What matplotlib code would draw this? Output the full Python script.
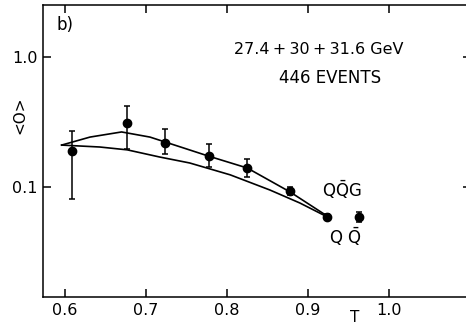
import matplotlib

matplotlib.use("Agg")
import matplotlib.pyplot as plt
import numpy as np

# measured points: thrust T, <O>, and error-bar bounds
t_data = [0.609, 0.677, 0.723, 0.778, 0.825, 0.878, 0.923, 0.963]
o_data = [0.189, 0.310, 0.218, 0.173, 0.140, 0.093, 0.059, 0.059]
o_hi = [0.270, 0.420, 0.279, 0.214, 0.164, 0.100, 0.062, 0.064]
o_lo = [0.081, 0.196, 0.179, 0.143, 0.119, 0.0868, 0.0557, 0.0538]

# model curves
t_qqg = [0.596, 0.631, 0.670, 0.705, 0.746, 0.777, 0.825, 0.878, 0.926]
o_qqg = [0.210, 0.242, 0.265, 0.242, 0.200, 0.173, 0.140, 0.0915, 0.0585]
t_qq = [0.596, 0.643, 0.677, 0.717, 0.754, 0.804, 0.853, 0.890, 0.924]
o_qq = [0.210, 0.203, 0.193, 0.170, 0.153, 0.124, 0.0948, 0.0753, 0.0588]

plt.rcParams["font.family"] = ["DejaVu Sans"]
plt.rcParams["mathtext.fontset"] = "dejavusans"

W, H = 466, 327
fig = plt.figure(figsize=(W / 100, H / 100), dpi=100)
# axes runs past the right edge of the scan
x0, x1, y0, y1 = 43, 471, 5, 297
ax = fig.add_axes([x0 / W, 1 - y1 / H, (x1 - x0) / W, (y1 - y0) / H])

ax.plot(t_qqg, o_qqg, color="black", lw=1.2)
ax.plot(t_qq, o_qq, color="black", lw=1.2)

o = np.array(o_data)
yerr = [o - np.array(o_lo), np.array(o_hi) - o]
ax.errorbar(t_data, o_data, yerr=yerr, fmt="o", color="black", ms=6,
            elinewidth=1.1, capsize=2.5, capthick=1.1)

ax.set_yscale("log")
ax.set_xlim(0.573, 1.1012)
ax.set_ylim(0.01425, 2.51)
ax.set_xticks([0.6, 0.7, 0.8, 0.9, 1.0])
ax.set_xticklabels(["0.6", "0.7", "0.8", "0.9", "1.0"])
ax.set_yticks([0.1, 1.0])
ax.set_yticklabels(["0.1", "1.0"])
ax.minorticks_off()
ax.tick_params(direction="in", length=6, width=1.1, labelsize=11.5,
               top=True, right=True, pad=4)
for s in ax.spines.values():
    s.set_linewidth(1.1)
ax.spines["right"].set_visible(False)

fig.text(20 / W, 1 - 115 / H, "<O>", rotation=90, ha="center", va="center", fontsize=11)
fig.text(355 / W, 1 - 318 / H, "T", ha="center", va="center", fontsize=11)
fig.text(57 / W, 1 - 25 / H, "b)", ha="left", va="center", fontsize=12)
fig.text(319 / W, 1 - 50 / H, "27.4\u2009+\u200930\u2009+\u200931.6 GeV", ha="center",
         va="center", fontsize=11.5)
fig.text(330 / W, 1 - 78 / H, "446 EVENTS", ha="center", va="center", fontsize=12)
fig.text(342 / W, 1 - 190 / H, r"Q$\bar{\mathrm{Q}}$G", ha="center", va="center", fontsize=12)
fig.text(345 / W, 1 - 237 / H, r"Q $\bar{\mathrm{Q}}$", ha="center", va="center", fontsize=12)

fig.savefig("out.png", dpi=100)
